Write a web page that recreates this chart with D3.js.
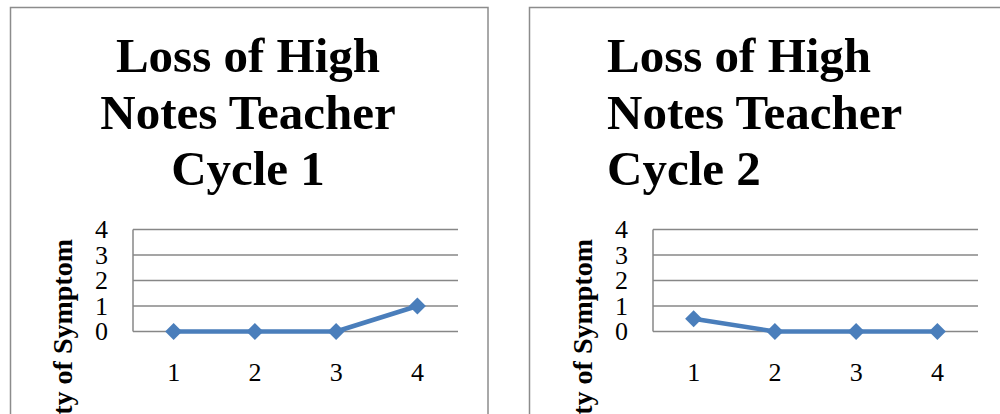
<!DOCTYPE html>
<html><head><meta charset="utf-8">
<script src="https://cdn.jsdelivr.net/npm/d3@7"></script>
<style>html,body{margin:0;padding:0;background:#fff;overflow:hidden}</style>
</head><body>
<svg id="c" width="1000" height="414"></svg>
<script>
const categories = ["1", "2", "3", "4"];
const cycle1Values = [0, 0, 0, 1];
const cycle2Values = [0.5, 0, 0, 0];
const yTicks = [0, 1, 2, 3, 4];
const titles1 = ["Loss of High", "Notes Teacher", "Cycle 1"];
const titles2 = ["Loss of High", "Notes Teacher", "Cycle 2"];
const yLabel = "Severity of Symptom";

const svg = d3.select("#c");
const serif = "'Liberation Serif', 'DejaVu Serif', serif";
const blue = "#4A7EBB";
const grid = "#878787";

function panel(o) {
  const g = svg.append("g");
  g.append("rect").attr("x", o.bx).attr("y", 7.5).attr("width", o.bw).attr("height", 460)
    .attr("fill", "#fff").attr("stroke", "#8c8c8c").attr("stroke-width", 1.5);

  const tg = g.append("g");
  o.titles.forEach((t, i) => {
    tg.append("text").attr("x", o.tx).attr("y", 72 + i * 56.5)
      .attr("text-anchor", o.anchor)
      .attr("font-family", serif).attr("font-weight", "bold").attr("font-size", 49)
      .attr("fill", "#000").text(t);
  });

  const x = d3.scaleBand().domain(categories).range([o.px0, o.px1]);
  const y = d3.scaleLinear().domain([0, 4]).range([331.5, 229.5]);

  const gridG = g.append("g");
  gridG.selectAll("line").data(yTicks).join("line")
    .attr("x1", o.px0).attr("x2", o.px1)
    .attr("y1", d => y(d)).attr("y2", d => y(d))
    .attr("stroke", grid).attr("stroke-width", 1.5);
  gridG.append("line").attr("x1", o.px0).attr("x2", o.px0)
    .attr("y1", y(4)).attr("y2", y(0)).attr("stroke", grid).attr("stroke-width", 1.5);

  // y tick labels
  g.append("g").selectAll("text").data(yTicks).join("text")
    .attr("x", o.px0 - 25).attr("y", d => y(d)).attr("dy", "0.34em")
    .attr("text-anchor", "end").attr("font-family", serif).attr("font-size", 26)
    .text(d => d);

  // x tick labels
  g.append("g").selectAll("text").data(categories).join("text")
    .attr("x", d => x(d) + x.bandwidth() / 2).attr("y", 380.5)
    .attr("text-anchor", "middle").attr("font-family", serif).attr("font-size", 26)
    .text(d => d);

  // y axis label
  g.append("text").attr("transform", `translate(${o.lx},239) rotate(-90)`)
    .attr("text-anchor", "end").attr("dy", "0.35em")
    .attr("font-family", serif).attr("font-weight", "bold").attr("font-size", 28)
    .text(yLabel);

  const cx = d => x(d) + x.bandwidth() / 2;
  const line = d3.line().x((d, i) => cx(categories[i])).y(d => y(d));
  g.append("path").datum(o.values).attr("d", line)
    .attr("fill", "none").attr("stroke", blue).attr("stroke-width", 4.5).attr("stroke-linejoin", "round");
  g.append("g").selectAll("path").data(o.values).join("path")
    .attr("transform", (d, i) => `translate(${cx(categories[i])},${y(d)}) rotate(45)`)
    .attr("d", d3.symbol().type(d3.symbolSquare).size(144))
    .attr("fill", blue);
}

panel({bx: 10.5, bw: 477.5, titles: titles1, tx: 248, anchor: "middle",
  px0: 133, px1: 458, lx: 62, values: cycle1Values});
panel({bx: 529.5, bw: 480, titles: titles2, tx: 607, anchor: "start",
  px0: 653, px1: 978, lx: 582, values: cycle2Values});
</script>
</body></html>
